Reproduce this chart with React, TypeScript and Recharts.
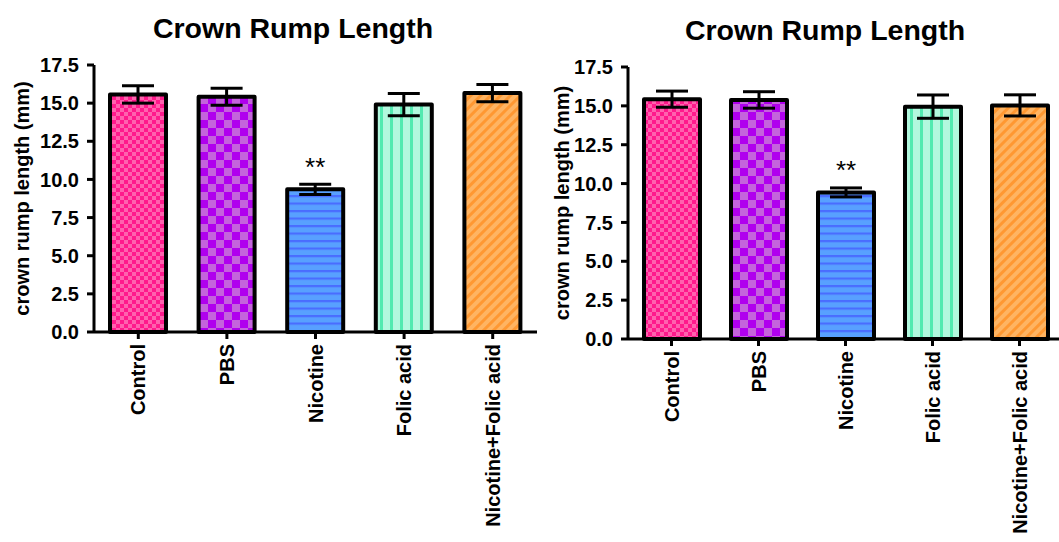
import * as React from "react";
import { Bar, BarChart, Cell, ErrorBar, LabelList, XAxis, YAxis } from "recharts";

const FONT = '"Liberation Sans", Arial, sans-serif';

// groups along the x axis
const categories: string[] = ["Control", "PBS", "Nicotine", "Folic acid", "Nicotine+Folic acid"];
// significance marks above the bars
const significance: string[] = ["", "", "**", "", ""];

// left panel: mean and SEM (mm)
const leftMeans: number[] = [15.57, 15.42, 9.35, 14.91, 15.66];
const leftErrors: number[] = [0.57, 0.55, 0.33, 0.73, 0.57];

// right panel: mean and SEM (mm)
const rightMeans: number[] = [15.43, 15.38, 9.43, 14.95, 15.03];
const rightErrors: number[] = [0.52, 0.53, 0.29, 0.75, 0.68];

const yTicks: number[] = [0, 2.5, 5, 7.5, 10, 12.5, 15, 17.5];

const PATTERN_IDS = ["patPink", "patPurple", "patBlue", "patMint", "patOrange"];

const buildData = (means: number[], errors: number[]) =>
    categories.map((name, i) => ({ name, value: means[i], err: errors[i], sig: significance[i] }));

const Patterns = () => (
    <svg width={0} height={0} style={{ position: "absolute" }}>
        <defs>
            <pattern id="patPink" patternUnits="userSpaceOnUse" width={8} height={8}>
                <rect width={8} height={8} fill="#ff62ae" />
                <rect width={4} height={4} fill="#ff1a8c" />
                <rect x={4} y={4} width={4} height={4} fill="#ff1a8c" />
            </pattern>
            <pattern id="patPurple" patternUnits="userSpaceOnUse" width={16} height={16}>
                <rect width={16} height={16} fill="#c464dc" />
                <rect width={8} height={8} fill="#b000ee" />
                <rect x={8} y={8} width={8} height={8} fill="#b000ee" />
            </pattern>
            <pattern id="patBlue" patternUnits="userSpaceOnUse" width={8} height={7.5}>
                <rect width={8} height={7.5} fill="#58a0ff" />
                <rect y={0} width={8} height={2.2} fill="#4a6cff" />
            </pattern>
            <pattern id="patMint" patternUnits="userSpaceOnUse" width={10} height={10}>
                <rect width={10} height={10} fill="#b2f8de" />
                <rect x={0} width={3} height={10} fill="#52eab0" />
            </pattern>
            <pattern id="patOrange" patternUnits="userSpaceOnUse" width={7} height={7} patternTransform="rotate(45)">
                <rect width={7} height={7} fill="#ffb462" />
                <rect width={3} height={7} fill="#ff9832" />
            </pattern>
        </defs>
    </svg>
);

const CategoryTick = (props: any) => {
    const { x, y, payload } = props;
    return (
        <text
            x={x}
            y={y}
            transform={`rotate(-90, ${x}, ${y})`}
            textAnchor="end"
            dominantBaseline="central"
            fontFamily={FONT}
            fontWeight="bold"
            fontSize={20}
            fill="#000">
            {payload.value}
        </text>
    );
};

const StarLabel = (props: any) => {
    const { x, y, width, value } = props;
    if (!value) return null;
    return (
        <text x={x + width / 2} y={y - 13} textAnchor="middle" fontFamily={FONT} fontSize={26} fill="#000">
            {value}
        </text>
    );
};

interface IPanelProps {
    means: number[];
    errors: number[];
    left: number;
    width: number;
    top: number;
    bottom: number;
    right: number;
    axisWidth: number;
    titleX: number;
    titleTop: number;
}

const Panel = (props: IPanelProps): JSX.Element => {
    const data = buildData(props.means, props.errors);
    return (
        <>
            <div
                style={{
                    position: "absolute",
                    left: props.titleX - 200,
                    width: 400,
                    top: props.titleTop,
                    textAlign: "center",
                    fontFamily: FONT,
                    fontWeight: "bold",
                    fontSize: 28.5,
                    lineHeight: "28px",
                }}>
                Crown Rump Length
            </div>
            <div style={{ position: "absolute", left: props.left, top: 0 }}>
                <BarChart
                    width={props.width}
                    height={542}
                    data={data}
                    barSize={56}
                    margin={{ top: props.top, right: props.right, left: 0, bottom: 0 }}>
                    <XAxis
                        dataKey="name"
                        height={542 - props.bottom}
                        interval={0}
                        axisLine={{ stroke: "#000", strokeWidth: 3 }}
                        tickLine={{ stroke: "#000", strokeWidth: 3 }}
                        tickSize={7}
                        tickMargin={5}
                        tick={<CategoryTick />}
                    />
                    <YAxis
                        width={props.axisWidth}
                        domain={[0, 17.5]}
                        ticks={yTicks}
                        interval={0}
                        tickFormatter={(v: number) => v.toFixed(1)}
                        axisLine={{ stroke: "#000", strokeWidth: 3 }}
                        tickLine={{ stroke: "#000", strokeWidth: 3 }}
                        tickSize={7}
                        tickMargin={8}
                        tick={{ fill: "#000", fontSize: 20, fontWeight: "bold", fontFamily: FONT }}
                        label={{
                            content: (lp: any) => {
                                const vb = lp.viewBox;
                                const cx = vb.x + 22;
                                const cy = vb.y + vb.height / 2;
                                return (
                                    <text
                                        x={cx}
                                        y={cy}
                                        transform={`rotate(-90, ${cx}, ${cy})`}
                                        textAnchor="middle"
                                        dominantBaseline="central"
                                        fontFamily={FONT}
                                        fontWeight="bold"
                                        fontSize={20}
                                        fill="#000">
                                        crown rump length (mm)
                                    </text>
                                );
                            },
                        }}
                    />
                    <Bar
                        dataKey="value"
                        stroke="#000"
                        strokeWidth={4}
                        strokeLinejoin="round"
                        isAnimationActive={false}>
                        {data.map((entry, index: number) => (
                            <Cell key={`bar-${index}`} fill={`url(#${PATTERN_IDS[index]})`} />
                        ))}
                        <ErrorBar
                            dataKey="err"
                            direction="y"
                            width={16}
                            stroke="#000"
                            strokeWidth={3}
                            isAnimationActive={false}
                        />
                        <LabelList dataKey="sig" content={<StarLabel />} />
                    </Bar>
                </BarChart>
            </div>
        </>
    );
};

export default function App(): JSX.Element {
    return (
        <div
            style={{
                position: "absolute",
                left: 0,
                top: 0,
                width: 1059,
                height: 542,
                overflow: "hidden",
                background: "#fff",
            }}>
            <Patterns />
            <Panel
                means={leftMeans}
                errors={leftErrors}
                left={0}
                width={545}
                top={65}
                bottom={332}
                right={8}
                axisWidth={94}
                titleX={293}
                titleTop={14}
            />
            <Panel
                means={rightMeans}
                errors={rightErrors}
                left={540}
                width={530}
                top={67}
                bottom={339}
                right={7}
                axisWidth={88}
                titleX={825}
                titleTop={16}
            />
        </div>
    );
}
